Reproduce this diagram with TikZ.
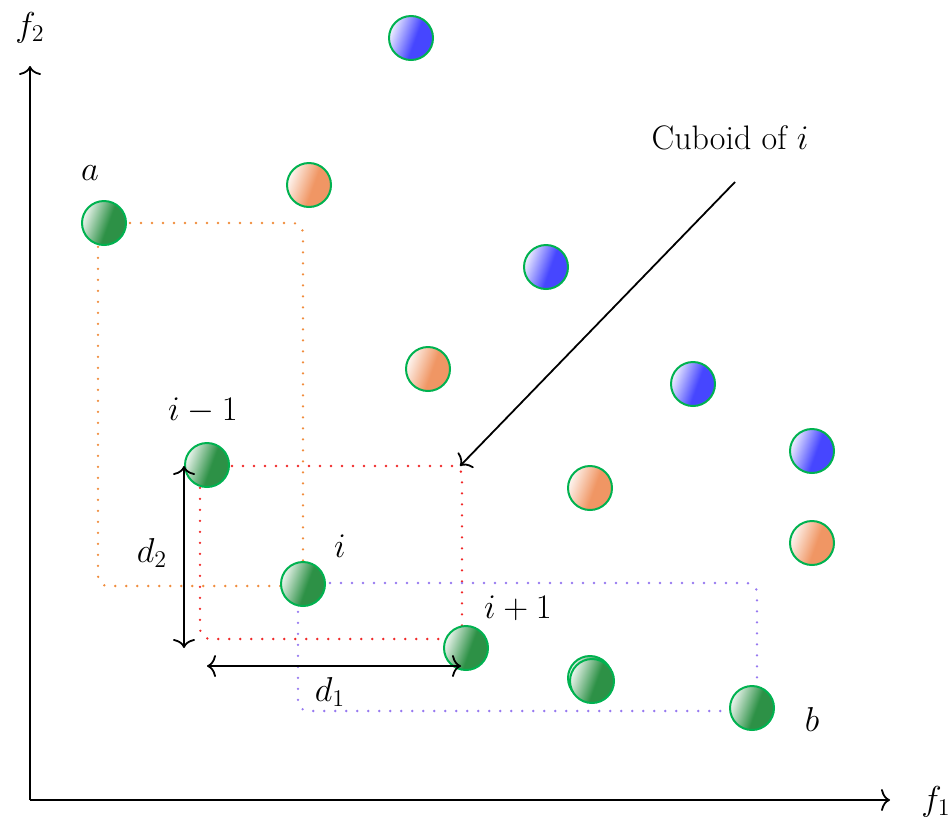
\documentclass[tikz,border=0pt]{standalone}
\usetikzlibrary{arrows.meta}
\definecolor{bgreen}{RGB}{45,145,70}
\definecolor{bborder}{RGB}{0,178,80}
\definecolor{bblue}{RGB}{70,70,255}
\definecolor{borange}{RGB}{240,150,100}
\definecolor{dorange}{RGB}{240,140,60}
\definecolor{dred}{RGB}{240,40,40}
\definecolor{dblue}{RGB}{150,120,240}
\pgfdeclarehorizontalshading{greenball}{100bp}{color(0bp)=(white); color(25bp)=(white!92!bgreen); color(55bp)=(bgreen); color(100bp)=(bgreen)}
\pgfdeclarehorizontalshading{blueball}{100bp}{color(0bp)=(white); color(25bp)=(white!92!bblue); color(55bp)=(bblue); color(100bp)=(bblue)}
\pgfdeclarehorizontalshading{orangeball}{100bp}{color(0bp)=(white); color(25bp)=(white!92!borange); color(55bp)=(borange); color(100bp)=(borange)}
\tikzset{
  ball/.style={circle, minimum size=22pt, inner sep=0pt, draw=bborder, line width=1pt, shading angle=-20},
  gball/.style={ball, shading=greenball},
  bball/.style={ball, shading=blueball},
  oball/.style={ball, shading=orangeball},
  dots/.style={line width=1.3pt, line cap=round, dash pattern=on 0pt off 5.5pt, rounded corners=5pt},
  lbl/.style={font=\fontsize{17}{20}\selectfont, inner sep=0pt},
  tip/.style={line width=0.9pt, arrows={-To[length=4.5pt,width=11pt]}},
  dtip/.style={line width=0.9pt, arrows={To[length=4.5pt,width=11pt]-To[length=4.5pt,width=11pt]}}
}
\begin{document}
\begin{tikzpicture}[x=0.5pt, y=-0.5pt]
\useasboundingbox (0,0) rectangle (951,825);
% dotted cuboids
\draw[dots, dorange] (98,223) -- (303,223) -- (303,586) -- (98,586) -- cycle;
\draw[dots, dred] (200,466) -- (462,466) -- (462,639) -- (200,639) -- cycle;
\draw[dots, dblue] (298,583) -- (757,583) -- (757,711) -- (298,711) -- cycle;
% axes
\coordinate (o) at (30,800);
\coordinate (yend) at (30,66);
\coordinate (xend) at (890,800);
\draw[tip] (o) -- (yend);
\draw[tip] (o) -- (xend);
\node[lbl] (f2) at (30,28) {$f_2$};
\node[lbl] (f1) at (936,802) {$f_1$};
% balls
\node[bball] (b1) at (411,38) {};
\node[oball] (o1) at (309,185) {};
\node[bball] (b2) at (546,267) {};
\node[oball] (o2) at (428,369) {};
\node[bball] (b3) at (693,384) {};
\node[bball] (b4) at (812,451) {};
\node[oball] (o3) at (590,488) {};
\node[oball] (o4) at (812,543) {};
\node[gball] (a) at (104,223) {};
\node[gball] (im1) at (207,465) {};
\node[gball] (i) at (303,584) {};
\node[gball] (ip1) at (466,648) {};
\node[gball] (g5) at (590,678) {};
\node[gball] (g6) at (592,681) {};
\node[gball] (b) at (752,708) {};
% labels
\node[lbl] (la) at (90,173) {$a$};
\node[lbl] (lim1) at (203,411) {$i-1$};
\node[lbl] (li) at (340,546) {$i$};
\node[lbl] (lip1) at (518,608) {$i+1$};
\node[lbl] (lb) at (812,719) {$b$};
\node[lbl] (ld2) at (152,553) {$d_2$};
\node[lbl] (ld1) at (330,692) {$d_1$};
\node[lbl] (lc) at (730,138) {Cuboid of $i$};
% distance arrows
\coordinate (d2a) at (184,466);
\coordinate (d2b) at (184,648);
\coordinate (d1a) at (207,666);
\coordinate (d1b) at (461,666);
\draw[dtip] (d2a) -- (d2b);
\draw[dtip] (d1a) -- (d1b);
% cuboid pointer
\coordinate (cs) at (735,182);
\coordinate (ce) at (460,466);
\draw[tip] (cs) -- (ce);
\end{tikzpicture}
\end{document}
